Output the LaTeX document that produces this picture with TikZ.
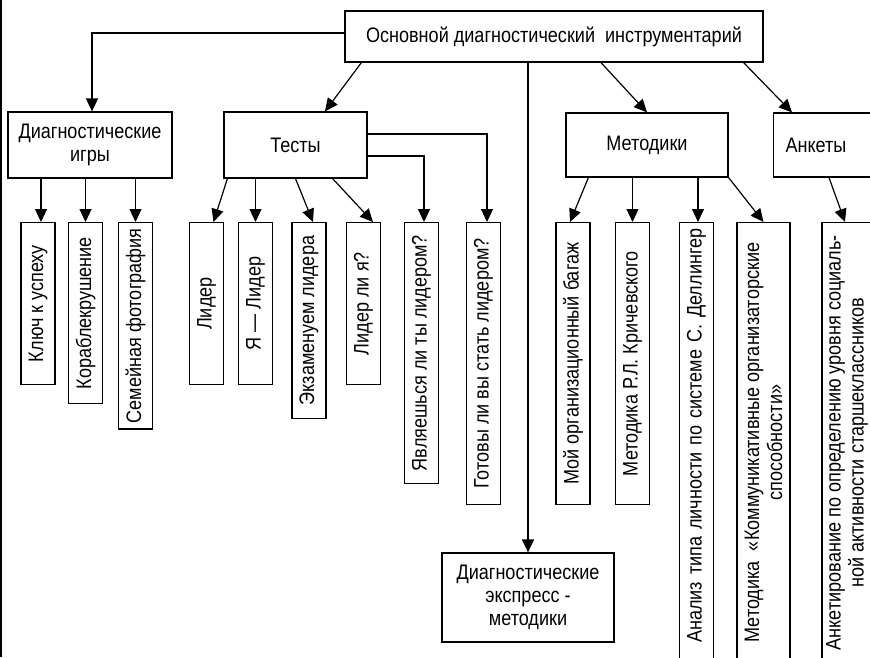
\documentclass[tikz,border=0pt]{standalone}
\usepackage{fontspec}
\setmainfont{Liberation Sans}[FakeStretch=0.86]
\usepackage{tikz}
\usetikzlibrary{arrows.meta}

\begin{document}
\begin{tikzpicture}[x=1pt,y=-1pt,
    line width=1.2pt,
    every node/.style={font=\fontsize{21}{23}\selectfont},
    box/.style={draw, align=center, inner sep=4pt},
    leaf/.style={draw, rotate=90, anchor=east, minimum height=34, inner xsep=6pt, align=center},
    arr/.style={-{Triangle[length=13pt,width=12pt]}}]
   \useasboundingbox (0,0) rectangle (870,657);
   \clip (0,0) rectangle (870,657);
   \draw (1,0) -- (1,657);

   % upper level
   \node[box, minimum width=418, minimum height=51] (main) at (554,36.5) {Основной диагностический\ \ инструментарий} ; %
   \node[box, minimum width=164, minimum height=66] (games) at (90,145) {Диагностические\\игры} ; %
   \node[box, minimum width=143, minimum height=66] (tests) at (295.5,145) {Тесты} ; %
   \node[box, minimum width=162, minimum height=64] (meth) at (647,145) {Методики} ; %
   \node[box, anchor=west, text width=100, align=left, inner xsep=12pt, minimum height=64] (ank) at (773,145) {Анкеты} ; %
   \node[box, minimum width=172, minimum height=89] (express) at (528,597.5) {Диагностические\\экспресс -\\методики} ; %

   % leaves
   \node[leaf, minimum width=162] (key)     at (38,222)    {Ключ к успеху} ; %
   \node[leaf, minimum width=181] (ship)    at (85.5,222)  {Кораблекрушение} ; %
   \node[leaf, minimum width=206] (photo)   at (135.5,222) {Семейная фотография} ; %
   \node[leaf, minimum width=162] (lider)   at (206.5,222) {Лидер} ; %
   \node[leaf, minimum width=162] (ya)      at (255.5,222) {Я — Лидер} ; %
   \node[leaf, minimum width=196] (exam)    at (309,222)   {Экзаменуем лидера} ; %
   \node[leaf, minimum width=162] (liderli) at (363.5,222) {Лидер ли я?} ; %
   \node[leaf, minimum width=261] (yavl)    at (421.5,222) {Являешься ли ты лидером?} ; %
   \node[leaf, minimum width=282] (gotovy)  at (483.5,222) {Готовы ли вы стать лидером?} ; %
   \node[leaf, minimum width=282] (bagazh)  at (573,222)   {Мой организационный багаж} ; %
   \node[leaf, minimum width=282] (krich)   at (632.5,222) {Методика Р.Л. Кричевского} ; %
   \node[leaf, text width=438, align=right] (analiz) at (696.5,222) {Анализ типа личности по системе С. Деллингер} ; %
   \node[leaf, minimum width=440, minimum height=53] (kommun) at (763.5,222) {Методика~ «Коммуникативные организаторские\\способности»} ; %
   \node[leaf, minimum width=440, minimum height=50] (anket)  at (847,222)   {Анкетирование по определению уровня социаль-\\ной активности старшеклассников} ; %

   % main
   \draw[arr] ([yshift=3.5pt]main.west) -| ([xshift=2pt]games.north) ;
   \draw[arr] ([xshift=17pt]main.south west) -- ([xshift=29.5pt]tests.north) ;
   \draw[arr] (express.north |- main.south) -- (express.north) ;
   \draw[arr] ([xshift=47pt]main.south) -- (meth.north) ;
   \draw[arr] ([xshift=-20pt]main.south east) -- ([xshift=19pt]ank.north west) ;

   % games
   \draw[arr] ([xshift=3pt]key.east |- games.south) -- ([xshift=3pt]key.east) ;
   \draw[arr] (ship.east |- games.south) -- (ship.east) ;
   \draw[arr] (photo.east |- games.south) -- (photo.east) ;

   % tests
   \draw[arr] ([xshift=4pt]tests.south west) -- ([xshift=7pt]lider.east) ;
   \draw[arr] (ya.east |- tests.south) -- (ya.east) ;
   \draw[arr] (tests.south) -- ([xshift=4pt]exam.east) ;
   \draw[arr] ([xshift=-35pt]tests.south east) -- ([xshift=9.5pt]liderli.east) ;
   \draw[arr] ([yshift=-11pt]tests.east) -| ([xshift=2.5pt]yavl.east) ;
   \draw[arr] ([yshift=11pt]tests.east) -| ([xshift=3.5pt]gotovy.east) ;

   % meth, ank
   \draw[arr] ([xshift=23pt]meth.south west) -- ([xshift=-3pt]bagazh.east) ;
   \draw[arr] (krich.east |- meth.south) -- (krich.east) ;
   \draw[arr] ([xshift=1.5pt]analiz.east |- meth.south) -- ([xshift=1.5pt]analiz.east) ;
   \draw[arr] (meth.south east) -- (kommun.east) ;
   \draw[arr] ([xshift=56pt]ank.south west) -- ([xshift=-2pt]anket.east) ;

\end{tikzpicture}
\end{document}
